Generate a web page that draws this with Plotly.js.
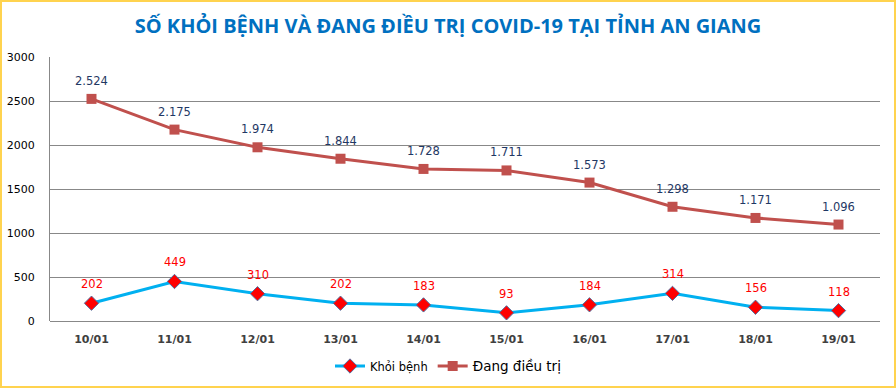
<!DOCTYPE html>
<html>
<head>
<meta charset="utf-8">
<script src="https://cdn.plot.ly/plotly-3.0.1.min.js"></script>
<style>
html,body{margin:0;padding:0;background:#fff;}
#wrap{position:relative;width:896px;height:388px;}
#chart{width:896px;height:388px;}
#frame{position:absolute;left:0;top:0;width:896px;height:388px;box-sizing:border-box;border:2px solid #FFD34F;pointer-events:none;}
</style>
</head>
<body>
<div id="wrap"><div id="chart"></div><div id="frame"></div></div>
<script>
const categories = ["10/01","11/01","12/01","13/01","14/01","15/01","16/01","17/01","18/01","19/01"];
const khoiBenh = [202, 449, 310, 202, 183, 93, 184, 314, 156, 118];
const dangDieuTri = [2524, 2175, 1974, 1844, 1728, 1711, 1573, 1298, 1171, 1096];
const yTicks = [0, 500, 1000, 1500, 2000, 2500, 3000];
const titleText = "SỐ KHỎI BỆNH VÀ ĐANG ĐIỀU TRỊ COVID-19 TẠI TỈNH AN GIANG";
const seriesNames = ["Khỏi bệnh", "Đang điều trị"];

const fmt = v => v.toLocaleString("de-DE");
const labelFont = "Tahoma, 'DejaVu Sans', sans-serif";

const traces = [
  {
    x: categories, y: khoiBenh, name: seriesNames[0], type: "scatter", mode: "lines+markers",
    line: {color: "#00B0F0", width: 3},
    marker: {symbol: "diamond", size: 11, color: "#FF0000", line: {color: "#4F6FA0", width: 1}}
  },
  {
    x: categories, y: dangDieuTri, name: "<span style='font-size:13.5px'>" + seriesNames[1] + "</span>", type: "scatter", mode: "lines+markers",
    line: {color: "#C0504D", width: 3},
    marker: {symbol: "square", size: 10, color: "#C0504D"}
  }
];

const annotations = [];
categories.forEach((c, i) => {
  annotations.push({x: c, y: khoiBenh[i], xref: "x", yref: "y", text: fmt(khoiBenh[i]), showarrow: false,
    yshift: 19, font: {family: labelFont, size: 11.5, color: "#FF0000"}});
  annotations.push({x: c, y: dangDieuTri[i], xref: "x", yref: "y", text: fmt(dangDieuTri[i]), showarrow: false,
    yshift: 18, font: {family: labelFont, size: 11.5, color: "#1F3864"}});
});

const layout = {
  width: 896, height: 388,
  margin: {l: 50, r: 16, t: 57, b: 67, autoexpand: false},
  paper_bgcolor: "#fff", plot_bgcolor: "#fff",
  title: {text: titleText, x: 0.5, xanchor: "center", xref: "container", y: 1 - 26/388, yref: "container", yanchor: "middle",
    font: {family: "'Open Sans', sans-serif", size: 20, color: "#0070C0", weight: "bold"}},
  xaxis: {type: "category", range: [-0.5, 9.5], showgrid: false, zeroline: false, showline: false,
    ticks: "", tickfont: {family: labelFont, size: 11, color: "#404040", weight: "bold"},
    ticklabelstandoff: 10, automargin: false},
  yaxis: {range: [0, 3000], tickvals: yTicks, showgrid: true, gridcolor: "#888", gridwidth: 1,
    zeroline: true, zerolinecolor: "#888", zerolinewidth: 1,
    showline: true, linecolor: "#888", linewidth: 1, ticks: "", automargin: false,
    tickfont: {family: labelFont, size: 11, color: "#000"}, ticklabelstandoff: 12},
  annotations: annotations,
  showlegend: true,
  legend: {orientation: "h", x: 0.5, xanchor: "center", xref: "container", y: 1 - 366/388, yref: "container", yanchor: "middle",
    font: {family: labelFont, size: 11.5, color: "#000"}, itemwidth: 30, tracegroupgap: 0},
};

Plotly.newPlot("chart", traces, layout, {displayModeBar: false, staticPlot: true});
</script>
</body>
</html>
